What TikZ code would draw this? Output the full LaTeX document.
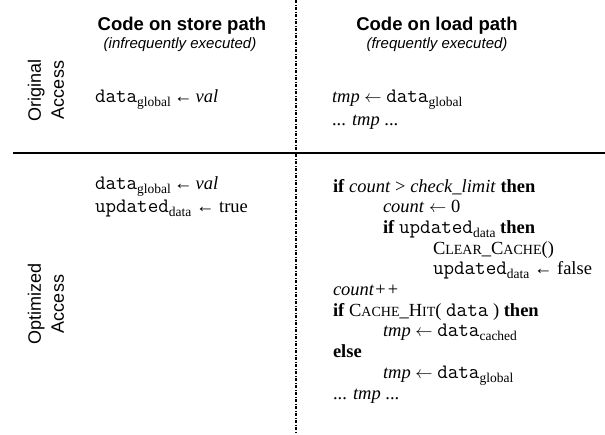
\documentclass[tikz,border=0pt]{standalone}
\usepackage{fontspec}
\setmainfont{Liberation Serif}
\setsansfont{Liberation Sans}
\newcommand\tv[1]{{\ttfamily\fontsize{20.5}{21}\selectfont #1}}
\newcommand\subx[1]{\raisebox{-4pt}{\fontsize{13.5}{14}\selectfont\rmfamily\upshape\mdseries #1}}
\newcommand\fakesc[2]{#1{\fontsize{14}{14}\selectfont #2}}
\begin{document}
\begin{tikzpicture}[x=1pt,y=-1pt,
  txt/.style={inner sep=0pt, outer sep=0pt, anchor=base west, font=\fontsize{18.5}{21}\selectfont},
  ttl/.style={inner sep=0pt, anchor=base, font=\sffamily\bfseries\fontsize{18.5}{21}\selectfont},
  subttl/.style={inner sep=0pt, anchor=base, font=\sffamily\itshape\fontsize{15}{17}\selectfont},
  side/.style={inner sep=0pt, rotate=90, align=center, font=\sffamily\fontsize{18}{23}\selectfont},
  divider/.style={line width=1.3pt},
  dashdiv/.style={line width=1.3pt, dash pattern=on 3pt off 1.5pt on 1pt off 1.5pt}]
\useasboundingbox (0,0) rectangle (605,434);
% dividers
\coordinate (hl) at (13,153);
\coordinate (hr) at (605,153);
\coordinate (vt) at (296,0);
\coordinate (vb) at (296,434);
\draw[divider] (hl) -- (hr);
\draw[dashdiv] (vt) -- (vb);
% titles
\node[ttl] (t1) at (182,30) {Code on store path};
\node[subttl] (s1) at (180,48) {(infrequently executed)};
\node[ttl] (t2) at (437,30) {Code on load path};
\node[subttl] (s2) at (437,48) {(frequently executed)};
% side labels
\node[side] (l1) at (46,90) {Original\\Access};
\node[side] (l2) at (46,304) {Optimized\\Access};
% original access
\node[txt] (a1) at (95,102) {\tv{data}\subx{global}\,←\,\textit{val}};
\node[txt] (b1) at (332,102) {\textit{tmp} $\leftarrow$ \tv{data}\subx{global}};
\node[txt] (b2) at (332,125) {... \textit{tmp} ...};
% optimized store
\node[txt] (c1) at (95,189) {\tv{data}\subx{global}\,←\,\textit{val}};
\node[txt] (c2) at (95,212) {\tv{updated}\subx{data} ← true};
% optimized load
\node[txt] (d1) at (333,192) {\textbf{if} \textit{count} > \textit{check\_limit} \textbf{then}};
\node[txt] (d2) at (383,212.7) {\textit{count} $\leftarrow$ 0};
\node[txt] (d3) at (383,233.4) {\textbf{if} \tv{updated}\subx{data} \textbf{then}};
\node[txt] (d4) at (433,254.1) {\fakesc{C}{LEAR}\_\fakesc{C}{ACHE}()};
\node[txt] (d5) at (433,274.8) {\tv{updated}\subx{data} ← false};
\node[txt] (d6) at (333,295.5) {\textit{count++}};
\node[txt] (d7) at (333,316.2) {\textbf{if} \fakesc{C}{ACHE}\_\fakesc{H}{IT}( \tv{data} ) \textbf{then}};
\node[txt] (d8) at (383,336.9) {\textit{tmp} $\leftarrow$ \tv{data}\subx{cached}};
\node[txt] (d9) at (333,357.6) {\textbf{else}};
\node[txt] (d10) at (383,378.3) {\textit{tmp} $\leftarrow$ \tv{data}\subx{global}};
\node[txt] (d11) at (333,399) {... \textit{tmp} ...};
\end{tikzpicture}
\end{document}
